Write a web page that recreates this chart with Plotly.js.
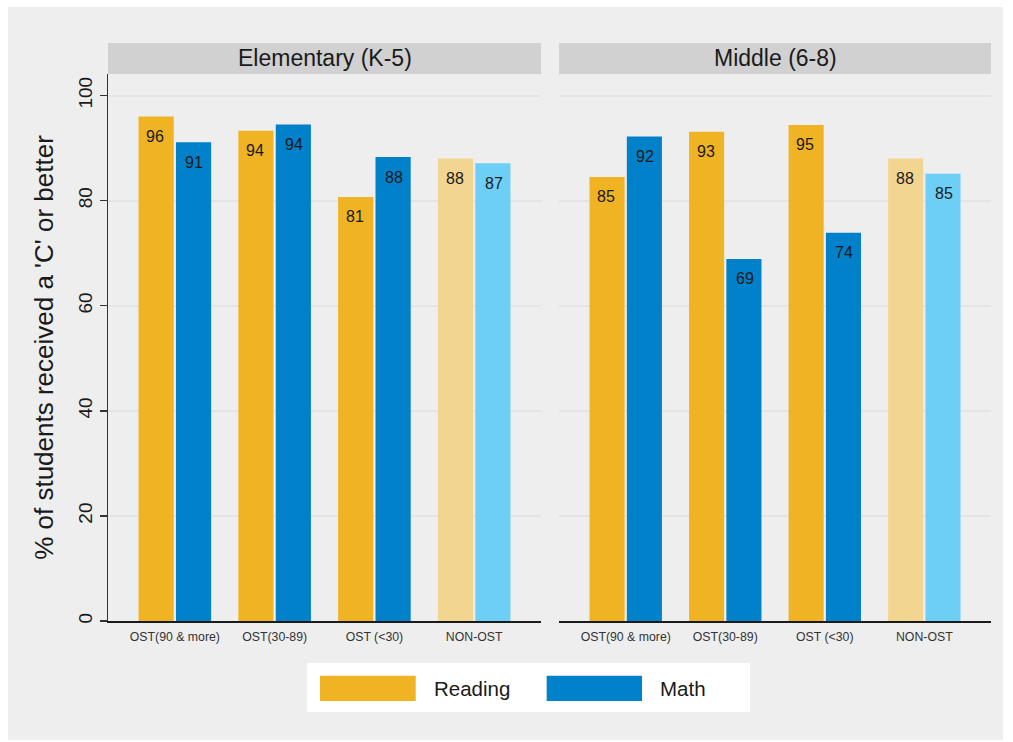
<!DOCTYPE html>
<html>
<head>
<meta charset="utf-8">
<script src="https://cdn.plot.ly/plotly-3.0.1.min.js"></script>
<style>html,body{margin:0;padding:0;background:#fff;}#chart{width:1013px;height:742px;}</style>
</head>
<body>
<div id="chart"></div>
<script>
// ---- data ----
const categories = ['OST(90 & more)', 'OST(30-89)', 'OST (<30)', 'NON-OST'];
const panels = ['Elementary (K-5)', 'Middle (6-8)'];
const seriesNames = ['Reading', 'Math'];
// bar heights
const elemReading = [96.0, 93.3, 80.7, 88.0];
const elemMath = [91.1, 94.5, 88.3, 87.1];
const midReading = [84.5, 93.1, 94.4, 88.0];
const midMath = [92.2, 68.9, 73.9, 85.1];
// printed value labels
const elemReadingLabels = ['96', '94', '81', '88'];
const elemMathLabels = ['91', '94', '88', '87'];
const midReadingLabels = ['85', '93', '95', '88'];
const midMathLabels = ['92', '69', '74', '85'];
const yTicks = [0, 20, 40, 60, 80, 100];

// ---- styles ----
const FONT = 'Liberation Sans, Arial, sans-serif';
const readingColors = ['#F0B323', '#F0B323', '#F0B323', '#F2D591'];
const mathColors = ['#0081C9', '#0081C9', '#0081C9', '#6DCFF6'];

function bar(name, y, colors, xa, ya) {
  return {
    type: 'bar', name: name, x: categories, y: y,
    marker: {color: colors, line: {width: 0}},
    xaxis: xa, yaxis: ya, showlegend: false, hoverinfo: 'x+y'
  };
}

const data = [
  bar(seriesNames[0], elemReading, readingColors, 'x', 'y'),
  bar(seriesNames[1], elemMath, mathColors, 'x', 'y'),
  bar(seriesNames[0], midReading, readingColors, 'x2', 'y2'),
  bar(seriesNames[1], midMath, mathColors, 'x2', 'y2')
];

// value labels, placed through the axes
const annotations = [];
function addLabels(vals, labels, xref, yref, xshift) {
  vals.forEach((v, i) => {
    annotations.push({
      x: categories[i], y: v, xref: xref, yref: yref,
      text: labels[i], showarrow: false, yanchor: 'middle', xanchor: 'center',
      yshift: -20, xshift: xshift,
      font: {family: FONT, size: 16, color: '#1a1a1a'}
    });
  });
}
addLabels(elemReading, elemReadingLabels, 'x', 'y', -19.5);
addLabels(elemMath, elemMathLabels, 'x', 'y', 19.5);
addLabels(midReading, midReadingLabels, 'x2', 'y2', -19.5);
addLabels(midMath, midMathLabels, 'x2', 'y2', 19.5);

// panel headers
const dom1 = [0, 0.4904], dom2 = [0.5108, 1];
annotations.push({xref: 'paper', yref: 'paper', x: (dom1[0] + dom1[1]) / 2, y: 1.0285, text: panels[0],
  showarrow: false, xanchor: 'center', yanchor: 'middle', font: {family: FONT, size: 23, color: '#1a1a1a'}});
annotations.push({xref: 'paper', yref: 'paper', x: (dom2[0] + dom2[1]) / 2, y: 1.0285, text: panels[1],
  showarrow: false, xanchor: 'center', yanchor: 'middle', font: {family: FONT, size: 23, color: '#1a1a1a'}});

// legend text
annotations.push({xref: 'paper', yref: 'paper', x: 0.3666, y: -0.1225, text: seriesNames[0],
  showarrow: false, xanchor: 'left', yanchor: 'middle', font: {family: FONT, size: 20.5, color: '#1a1a1a'}});
annotations.push({xref: 'paper', yref: 'paper', x: 0.6225, y: -0.1225, text: seriesNames[1],
  showarrow: false, xanchor: 'left', yanchor: 'middle', font: {family: FONT, size: 20.5, color: '#1a1a1a'}});

const shapes = [
  // gray background frame
  {type: 'rect', xref: 'paper', yref: 'paper', x0: -0.1133, x1: 1.0136, y0: -0.2176, y1: 1.1225,
   fillcolor: '#EEEEEE', line: {width: 0}, layer: 'below'},
  // headers
  {type: 'rect', xref: 'paper', yref: 'paper', x0: dom1[0], x1: dom1[1], y0: 1.0, y1: 1.0567,
   fillcolor: '#D1D1D1', line: {width: 0}, layer: 'below'},
  {type: 'rect', xref: 'paper', yref: 'paper', x0: dom2[0], x1: dom2[1], y0: 1.0, y1: 1.0567,
   fillcolor: '#D1D1D1', line: {width: 0}, layer: 'below'},
  // legend box
  {type: 'rect', xref: 'paper', yref: 'paper', x0: 0.2254, x1: 0.7271, y0: -0.1664, y1: -0.0768,
   fillcolor: '#FFFFFF', line: {width: 0}, layer: 'below'},
  {type: 'rect', xref: 'paper', yref: 'paper', x0: 0.2401, x1: 0.3485, y0: -0.1463, y1: -0.1000,
   fillcolor: readingColors[0], line: {width: 0}},
  {type: 'rect', xref: 'paper', yref: 'paper', x0: 0.4968, x1: 0.6048, y0: -0.1463, y1: -0.1000,
   fillcolor: mathColors[0], line: {width: 0}}
];

const xCommon = {
  type: 'category', range: [-0.67, 3.67], showline: true, linecolor: '#1a1a1a', linewidth: 1.5,
  ticks: 'outside', ticklen: 4, tickcolor: 'rgba(0,0,0,0)', showgrid: false, zeroline: false,
  tickfont: {family: FONT, size: 12.3, color: '#333'}, fixedrange: true
};
const yCommon = {
  range: [0, 104.1], tickvals: yTicks, showgrid: true, gridcolor: '#E4E4E4', gridwidth: 2,
  zeroline: false, fixedrange: true, automargin: false
};

const layout = {
  width: 1013, height: 742,
  margin: {l: 108, r: 22, t: 74, b: 121, pad: 0},
  paper_bgcolor: '#FFFFFF', plot_bgcolor: '#FFFFFF',
  barmode: 'group', bargap: 0.25, bargroupgap: 0.06,
  font: {family: FONT, color: '#1a1a1a'},
  showlegend: false,
  xaxis: Object.assign({}, xCommon, {domain: dom1, anchor: 'y'}),
  xaxis2: Object.assign({}, xCommon, {domain: dom2, anchor: 'y2'}),
  yaxis: Object.assign({}, yCommon, {
    anchor: 'x', showline: true, linecolor: '#333', linewidth: 1.5,
    ticks: 'outside', ticklen: 7, tickcolor: '#333', tickwidth: 1.5, tickangle: -90,
    tickfont: {family: FONT, size: 19, color: '#1a1a1a'},
    title: {text: "% of students received a 'C' or better", standoff: 14,
            font: {family: FONT, size: 26, color: '#1a1a1a'}}
  }),
  yaxis2: Object.assign({}, yCommon, {anchor: 'x2', matches: 'y', showline: false, showticklabels: false, ticks: ''}),
  shapes: shapes,
  annotations: annotations
};

Plotly.newPlot('chart', data, layout, {displayModeBar: false, staticPlot: true});
</script>
</body>
</html>
